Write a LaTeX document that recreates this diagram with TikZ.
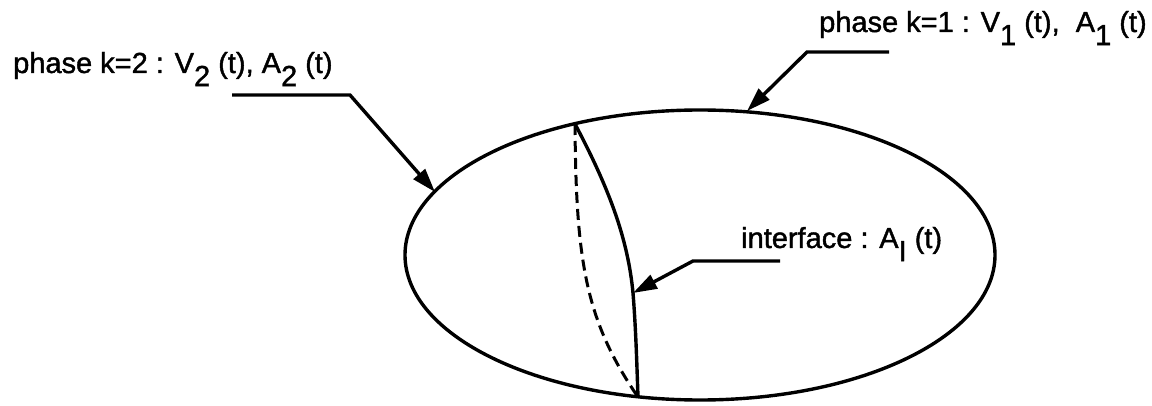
\documentclass[tikz,border=0pt]{standalone}
\usepackage{fontspec}
\setmainfont{Liberation Sans}
\newfontfamily\lblfont{Liberation Sans}[FakeBold=1.4]
\usetikzlibrary{arrows.meta}
\newcommand\lowsub[1]{\raisebox{-0.45em}{#1}}
\begin{document}
\begin{tikzpicture}[x=1pt,y=-1pt,
  lbl/.style={anchor=base west,inner sep=0pt,font=\lblfont\fontsize{29}{31}\selectfont},
  pointer/.style={line width=3.4pt,line join=miter,-{Triangle[length=24pt,width=15pt]}},
  outline/.style={line width=3.4pt},
  hidden/.style={line width=3pt,dash pattern=on 11pt off 6pt}]
\useasboundingbox (0,0) rectangle (1152,406);
% body
\draw[outline] (700,255) ellipse [x radius=295, y radius=145];
% interface
\coordinate (itop) at (575,124);
\coordinate (ibot) at (638,397);
\coordinate (imid) at (633,293);
\draw[outline] (itop) .. controls (610,190) and (628,240) .. (imid)
   .. controls (636,330) and (637,370) .. (ibot);
\draw[hidden] (itop) .. controls (576,260) and (585,320) .. (ibot);
% labels
\node[lbl] (l2) at (13,73) {phase k=2 : V\lowsub{2} (t), A\lowsub{2} (t)};
\node[lbl] (l1) at (819,32) {phase k=1 : V\lowsub{1} (t),\ \ A\lowsub{1} (t)};
\node[lbl] (li) at (741,248) {interface : A\lowsub{I} (t)};
% pointer targets
\coordinate (t2) at (435,192);
\coordinate (t1) at (747,111);
\coordinate (s2) at (232,95);
\coordinate (k2) at (350,95);
\coordinate (s1) at (889,52);
\coordinate (k1) at (807,52);
\coordinate (si) at (780,261);
\coordinate (ki) at (693,261);
\draw[pointer] (s2) -- (k2) -- (t2);
\draw[pointer] (s1) -- (k1) -- (t1);
\draw[pointer] (si) -- (ki) -- (imid);
\end{tikzpicture}
\end{document}
